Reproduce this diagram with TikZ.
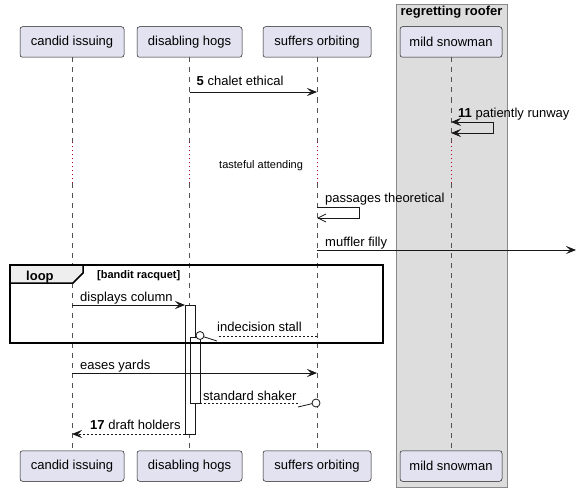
\documentclass[tikz,border=0pt]{standalone}
\usepackage{fontspec}
\setmainfont{Liberation Sans}
\usetikzlibrary{arrows.meta}
\definecolor{partfill}{HTML}{E2E2F0}
\definecolor{partline}{HTML}{181818}
\definecolor{groupfill}{HTML}{DDDDDD}
\definecolor{groupline}{HTML}{888888}
\definecolor{delaycol}{HTML}{A80036}
\definecolor{tabfill}{HTML}{EEEEEE}
\begin{document}
\begin{tikzpicture}[x=1pt,y=-1pt,
  part/.style={draw=partline, fill=partfill, line width=0.5pt, rounded corners=2.5pt,
    minimum height=30.5pt, inner sep=0pt, font=\fontsize{13}{15}\selectfont},
  lifeline/.style={draw=partline!75, line width=0.5pt, dash pattern=on 5pt off 5pt},
  delayline/.style={draw=delaycol, line width=0.8pt, dash pattern=on 0.8pt off 3.2pt},
  fillhead/.tip={Stealth[length=10pt,width=8pt,inset=4pt]},
  openhead/.tip={Straight Barb[length=8pt,width=8pt,line width=0.8pt]},
  msg/.style={draw=partline, line width=0.8pt, -fillhead},
  retmsg/.style={draw=partline, line width=0.8pt, dash pattern=on 2pt off 2pt},
  lbl/.style={anchor=base west, inner sep=0pt, font=\fontsize{13}{15}\selectfont},
  bar/.style={draw=partline, fill=white, line width=0.8pt},
  frame/.style={draw=black, line width=1.5pt},
  groupbox/.style={draw=groupline, fill=groupfill, line width=1pt}
]
\useasboundingbox (0,0) rectangle (577,492);
\fill[white] (0,0) rectangle (577,492);

% group box
\draw[groupbox] (396,5) rectangle (507,487);
\node[anchor=base, inner sep=0pt, font=\bfseries\fontsize{13}{15}\selectfont] (grp) at (451.5,15.5) {regretting roofer};

% participants
\node[part, minimum width=104pt] (ci) at (72,42) {candid issuing};
\node[part, minimum width=105pt] (dh) at (189.5,42) {disabling hogs};
\node[part, minimum width=108pt] (so) at (317,42) {suffers orbiting};
\node[part, minimum width=102pt] (ms) at (451,42) {mild snowman};
\node[part, minimum width=104pt] (ci2) at (72,466) {candid issuing};
\node[part, minimum width=105pt] (dh2) at (189.5,466) {disabling hogs};
\node[part, minimum width=108pt] (so2) at (317,466) {suffers orbiting};
\node[part, minimum width=102pt] (ms2) at (451,466) {mild snowman};

% lifelines with delay
\foreach \p/\x in {ci/72, dh/189.5, so/317, ms/451} {
  \coordinate (\p-d1) at (\x,142);
  \coordinate (\p-d2) at (\x,183);
  \draw[lifeline] (\p.south) -- (\p-d1);
  \draw[delayline] (\p-d1) -- (\p-d2);
  \draw[lifeline] (\p-d2) -- (\p2.north);
}

% message 5
\coordinate (m1a) at (189.5,92);
\coordinate (m1b) at (317,92);
\draw[msg] (m1a) -- (m1b);
\node[lbl] (t1) at (196.5,86) {\textbf{5} chalet ethical};

% message 11 (self, both ends)
\coordinate (m2a) at (451,122);
\coordinate (m2b) at (493,122);
\coordinate (m2c) at (493,133);
\coordinate (m2d) at (451,133);
\draw[draw=partline, line width=0.8pt, fillhead-fillhead] (m2a) -- (m2b) -- (m2c) -- (m2d);
\node[lbl] (t2) at (458,117.5) {\textbf{11} patiently runway};

% delay text
\node[anchor=base west, inner sep=0pt, font=\fontsize{11}{13}\selectfont] (dl) at (219,168) {tasteful attending};

% passages theoretical (self, open head)
\coordinate (m3a) at (317,207);
\coordinate (m3b) at (359,207);
\coordinate (m3c) at (359,218);
\coordinate (m3d) at (317,218);
\draw[draw=partline, line width=0.8pt, -openhead] (m3a) -- (m3b) -- (m3c) -- (m3d);
\node[lbl] (t3) at (325,202) {passages theoretical};

% muffler filly
\coordinate (m4a) at (317,250);
\coordinate (m4b) at (576,250);
\draw[msg] (m4a) -- (m4b);
\node[lbl] (t4) at (325,246) {muffler filly};

% activation bars
\draw[bar] (185,305) rectangle (195,434);
\draw[bar] (190,337) rectangle (200,403);

% displays column
\coordinate (m5a) at (72,305);
\coordinate (m5b) at (185,305);
\draw[msg] (m5a) -- (m5b);
\node[lbl] (t5) at (80,301) {displays column};

% indecision stall
\coordinate (m6a) at (317,336);
\coordinate (m6b) at (217,336);
\coordinate (m6c) at (200,335.5);
\coordinate (m6d) at (217,341);
\draw[retmsg] (m6a) -- (m6b);
\draw[draw=partline, line width=0.8pt] (m6d) -- (203.8,336.8);
\draw[draw=partline, fill=white, line width=0.8pt] (m6c) circle (4pt);
\node[lbl] (t6) at (217,331) {indecision stall};

% loop frame
\draw[frame] (10,265) rectangle (383,343);
\draw[frame, fill=tabfill] (10,265) -- (83,265) -- (83,273) -- (73,283) -- (10,283) -- cycle;
\node[anchor=base west, inner sep=0pt, font=\bfseries\fontsize{13}{15}\selectfont] (lp) at (26,280.5) {loop};
\node[anchor=base west, inner sep=0pt, font=\bfseries\fontsize{11}{13}\selectfont] (lc) at (97,278) {[bandit racquet]};

% eases yards
\coordinate (m7a) at (72,373);
\coordinate (m7b) at (317,373);
\draw[msg] (m7a) -- (m7b);
\node[lbl] (t7) at (80,369.5) {eases yards};

% standard shaker
\coordinate (m8a) at (200,403);
\coordinate (m8b) at (300,403);
\coordinate (m8c) at (316,403);
\coordinate (m8d) at (298,407);
\draw[retmsg] (m8a) -- (m8b);
\draw[draw=partline, line width=0.8pt] (m8d) -- (312.2,403.6);
\draw[draw=partline, fill=white, line width=0.8pt] (m8c) circle (4pt);
\node[lbl] (t8) at (203,400) {standard shaker};

% draft holders
\coordinate (m9a) at (185,434);
\coordinate (m9b) at (72,434);
\draw[retmsg, -fillhead] (m9a) -- (m9b);
\node[lbl] (t9) at (90,429.5) {\textbf{17} draft holders};
\end{tikzpicture}
\end{document}
